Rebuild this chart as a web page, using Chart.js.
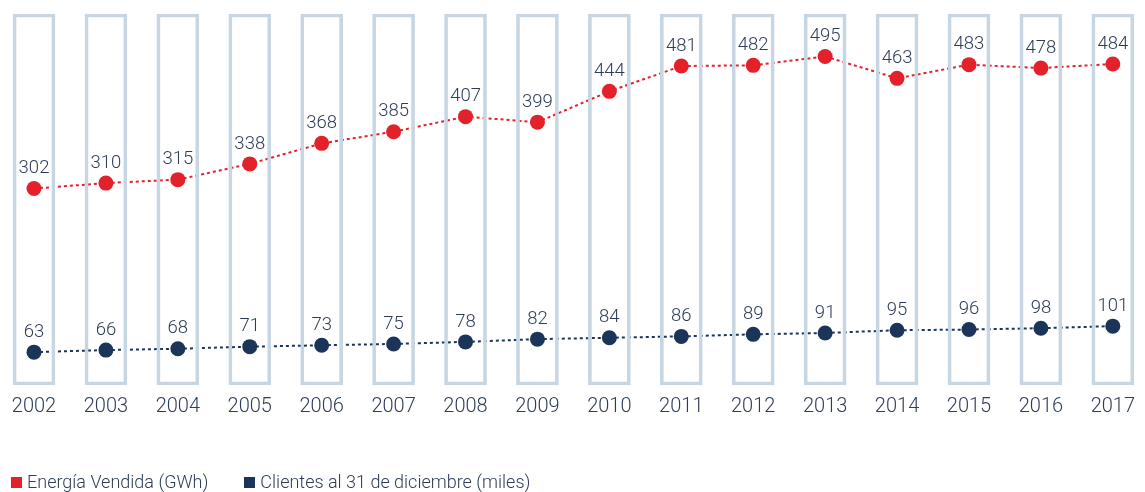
<!DOCTYPE html>
<html>
<head>
<meta charset="utf-8">
<script src="https://cdn.jsdelivr.net/npm/chart.js@4.4.1/dist/chart.umd.min.js"></script>
<style>
    body { margin: 0; background: #fff; font-family: Roboto, "Liberation Sans", sans-serif; font-weight: 300; }
    #wrap { position: relative; width: 1145px; height: 492px; }
    #legend { position: absolute; left: 11px; top: 472px; display: flex; font-size: 18px; color: #2e3d57; line-height: 20px; }
    .item { display: flex; align-items: center; margin-right: 36px; }
    .box { width: 11px; height: 11px; margin-right: 5px; }
</style>
</head>
<body>
<div id="wrap">
    <canvas id="myChart" width="1145" height="492"></canvas>
    <div id="legend"></div>
</div>
<script>
const years = ['2002', '2003', '2004', '2005', '2006', '2007', '2008', '2009', '2010', '2011', '2012', '2013', '2014', '2015', '2016', '2017'];
const energia = [302, 310, 315, 338, 368, 385, 407, 399, 444, 481, 482, 495, 463, 483, 478, 484];
const clientes = [63, 66, 68, 71, 73, 75, 78, 82, 84, 86, 89, 91, 95, 96, 98, 101];
const seriesNames = ['Energía Vendida (GWh)', 'Clientes al 31 de diciembre (miles)'];

const red = '#e2212a';
const navy = '#1b3558';
const textColor = '#2e3d57';

// column frames behind each year, full height of the plot
const frames = years.map(() => 1);

// value labels above every point
const pointLabels = {
    id: 'pointLabels',
    afterDatasetsDraw(chart) {
        const ctx = chart.ctx;
        ctx.save();
        ctx.font = '300 18.5px Roboto, "Liberation Sans", sans-serif';
        ctx.fillStyle = textColor;
        ctx.textAlign = 'center';
        ctx.textBaseline = 'middle';
        chart.data.datasets.forEach((ds, i) => {
            if (ds.type !== 'line') return;
            const meta = chart.getDatasetMeta(i);
            meta.data.forEach((pt, j) => {
                ctx.fillText(String(ds.data[j]), pt.x, pt.y - 20);
            });
        });
        ctx.restore();
    }
};

const ctx = document.getElementById('myChart').getContext('2d');
const myChart = new Chart(ctx, {
    data: {
        labels: years,
        datasets: [{
            type: 'line',
            label: seriesNames[0],
            data: energia,
            yAxisID: 'y',
            borderColor: red,
            backgroundColor: red,
            borderWidth: 2,
            borderDash: [3, 3],
            pointRadius: 7.5,
            pointBorderWidth: 0,
            tension: 0,
            clip: false,
            order: 1
        }, {
            type: 'line',
            label: seriesNames[1],
            data: clientes,
            yAxisID: 'y',
            borderColor: navy,
            backgroundColor: navy,
            borderWidth: 2,
            borderDash: [3, 3],
            pointRadius: 7.5,
            pointBorderWidth: 0,
            tension: 0,
            clip: false,
            order: 2
        }, {
            type: 'bar',
            label: 'frames',
            data: frames,
            yAxisID: 'yFrame',
            backgroundColor: 'rgba(0,0,0,0)',
            borderColor: '#c6d6e2',
            borderWidth: 3,
            borderSkipped: false,
            barThickness: 42,
            clip: false,
            order: 0
        }]
    },
    options: {
        responsive: false,
        animation: false,
        layout: {
            padding: { left: 34, right: 24, top: 14, bottom: 63 }
        },
        plugins: {
            legend: { display: false },
            tooltip: { enabled: false }
        },
        scales: {
            x: {
                offset: false,
                grid: { display: false, drawTicks: false },
                border: { display: false },
                ticks: {
                    padding: 10,
                    color: textColor,
                    font: { family: 'Roboto, "Liberation Sans", sans-serif', size: 20, weight: 300 },
                    maxRotation: 0,
                    autoSkip: false
                }
            },
            y: {
                display: false,
                min: 15,
                max: 557
            },
            yFrame: {
                display: false,
                min: 0,
                max: 1
            }
        }
    },
    plugins: [pointLabels]
});

// legend
const legend = document.getElementById('legend');
[red, navy].forEach((color, i) => {
    const item = document.createElement('div');
    item.className = 'item';
    item.innerHTML = '<span class="box" style="background:' + color + '"></span><span>' + seriesNames[i] + '</span>';
    legend.appendChild(item);
});
</script>
</body>
</html>
